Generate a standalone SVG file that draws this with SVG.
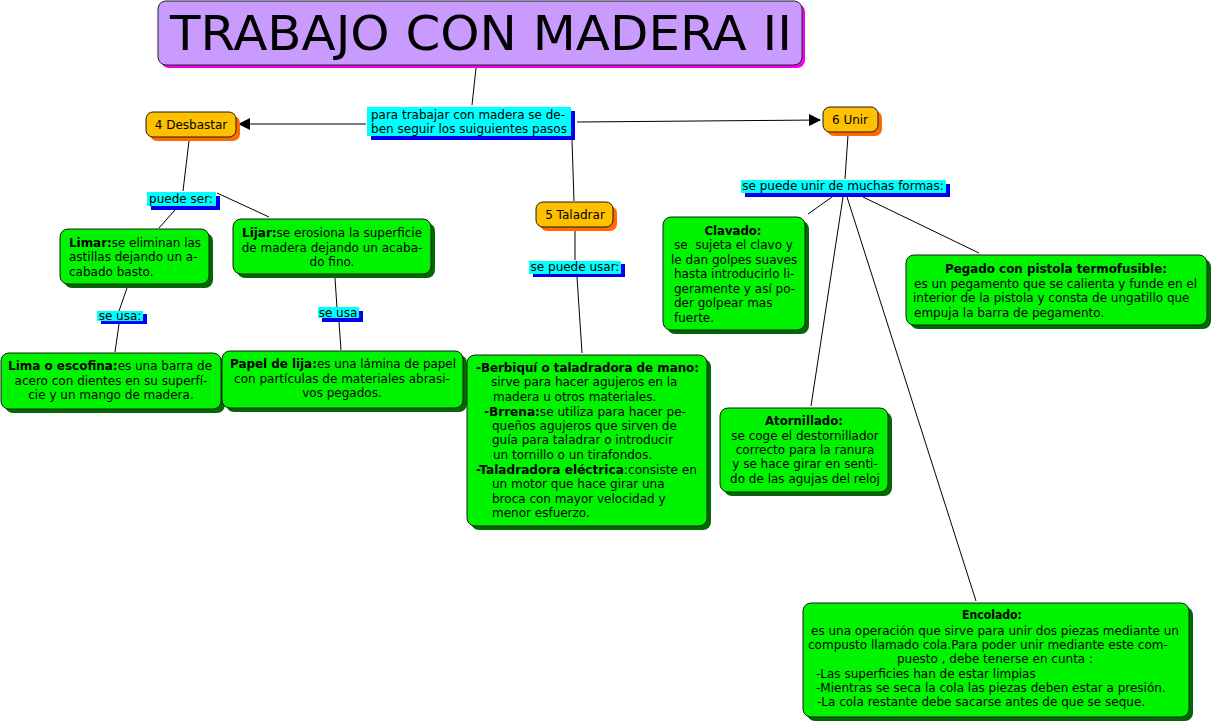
<svg xmlns="http://www.w3.org/2000/svg" width="1213" height="724" viewBox="0 0 1213 724">
<style>
text{font-family:"DejaVu Sans",Verdana,sans-serif;font-size:12px;fill:#000}
.b{font-weight:bold}
.c{text-anchor:middle}
.g{fill:#00F400;stroke:#1a1a1a;stroke-width:1}
.gs{fill:#006A00}
.o{fill:#FFC000;stroke:#1a1a1a;stroke-width:1}
.os{fill:#FF6A00}
.l{fill:#00FFFF}
.ls{fill:#0000F0}
.cn line{stroke:#000;stroke-width:1}
</style>
<defs>
<marker id="ar" markerWidth="12" markerHeight="12" refX="11" refY="6" orient="auto" markerUnits="userSpaceOnUse">
<path d="M0,0 L12,6 L0,12 Z" fill="#000"/>
</marker>
</defs>
<rect width="1213" height="724" fill="#fff"/>

<g id="connectors" class="cn">
<line x1="476" y1="68" x2="472" y2="105"/>
<line x1="366" y1="124" x2="239" y2="124" marker-end="url(#ar)"/>
<line x1="577" y1="122" x2="820" y2="120" marker-end="url(#ar)"/>
<line x1="572" y1="140" x2="574" y2="201"/>
<line x1="189" y1="141" x2="183" y2="191"/>
<line x1="175" y1="210" x2="159" y2="228"/>
<line x1="217" y1="193" x2="269" y2="217"/>
<line x1="127" y1="288" x2="119" y2="311"/>
<line x1="119" y1="324" x2="115" y2="352"/>
<line x1="335" y1="278" x2="337" y2="308"/>
<line x1="339" y1="322" x2="341" y2="350"/>
<line x1="575" y1="230" x2="575" y2="260"/>
<line x1="577" y1="277" x2="582" y2="353"/>
<line x1="848" y1="135" x2="845" y2="179"/>
<line x1="832" y1="197" x2="808" y2="214"/>
<line x1="843" y1="197" x2="811" y2="406"/>
<line x1="847" y1="197" x2="976" y2="601"/>
<line x1="863" y1="197" x2="979" y2="253"/>
</g>

<g id="title">
<rect x="161" y="4" width="644" height="64" rx="8" fill="#F000F0"/>
<rect x="158" y="1" width="644" height="64" rx="8" fill="#C99BFF" stroke="#222" stroke-width="1"/>
<text x="481" y="50" class="c" style="font-size:48px" textLength="622" lengthAdjust="spacingAndGlyphs">TRABAJO CON MADERA II</text>
</g>

<g id="pasos">
<rect x="371" y="111" width="204" height="29" class="ls"/>
<rect x="367" y="107" width="204" height="29" class="l"/>
<text x="468" y="119" class="c" textLength="194" lengthAdjust="spacingAndGlyphs">para trabajar con madera se de-</text>
<text x="469" y="133" class="c">ben seguir los suiguientes pasos</text>
</g>

<g id="desbastar">
<rect x="150" y="116" width="90" height="25" rx="7" class="os"/>
<rect x="146" y="112" width="90" height="25" rx="7" class="o"/>
<text x="191" y="129" class="c">4 Desbastar</text>
</g>

<g id="unir">
<rect x="827" y="111" width="55" height="25" rx="7" class="os"/>
<rect x="823" y="107" width="55" height="25" rx="7" class="o"/>
<text x="850" y="124" class="c">6 Unir</text>
</g>

<g id="taladrar">
<rect x="540" y="206" width="77" height="25" rx="7" class="os"/>
<rect x="536" y="202" width="77" height="25" rx="7" class="o"/>
<text x="575" y="219" class="c">5 Taladrar</text>
</g>

<g id="puede-ser">
<rect x="151" y="196" width="69" height="14" class="ls"/>
<rect x="147" y="192" width="69" height="14" class="l"/>
<text x="181" y="203" class="c">puede ser:</text>
</g>

<g id="limar">
<rect x="64" y="233" width="149" height="55" rx="8" class="gs"/>
<rect x="60" y="229" width="149" height="55" rx="8" class="g"/>
<text x="69" y="247" textLength="132" lengthAdjust="spacingAndGlyphs"><tspan class="b">Limar:</tspan>se eliminan las</text>
<text x="69" y="261">astillas dejando un a-</text>
<text x="69" y="276">cabado basto.</text>
</g>

<g id="lijar">
<rect x="237" y="223" width="198" height="55" rx="8" class="gs"/>
<rect x="233" y="219" width="198" height="55" rx="8" class="g"/>
<text x="332" y="237" class="c" textLength="180" lengthAdjust="spacingAndGlyphs"><tspan class="b">Lijar:</tspan>se erosiona la superficie</text>
<text x="332" y="252" class="c">de madera dejando un acaba-</text>
<text x="332" y="266" class="c">do fino.</text>
</g>

<g id="se-usa-1">
<rect x="101" y="314" width="46" height="10" class="ls"/>
<rect x="97" y="311" width="46" height="10" class="l"/>
<text x="120" y="320" class="c">se usa:</text>
</g>

<g id="se-usa-2">
<rect x="322" y="311" width="41" height="11" class="ls"/>
<rect x="318" y="307" width="41" height="11" class="l"/>
<text x="338" y="317" class="c">se usa</text>
</g>

<g id="lima">
<rect x="5" y="357" width="220" height="56" rx="8" class="gs"/>
<rect x="1" y="353" width="220" height="56" rx="8" class="g"/>
<text x="110" y="370" class="c" textLength="204" lengthAdjust="spacingAndGlyphs"><tspan class="b">Lima o escofina:</tspan>es una barra de</text>
<text x="111" y="385" class="c">acero con dientes en su superfí-</text>
<text x="111" y="399" class="c">cie y un mango de madera.</text>
</g>

<g id="papel">
<rect x="226" y="355" width="241" height="57" rx="8" class="gs"/>
<rect x="222" y="351" width="241" height="57" rx="8" class="g"/>
<text x="343" y="368" class="c" textLength="226" lengthAdjust="spacingAndGlyphs"><tspan class="b">Papel de lija:</tspan>es una lámina de papel</text>
<text x="342" y="383" class="c">con partículas de materiales abrasi-</text>
<text x="342" y="397" class="c">vos pegados.</text>
</g>

<g id="se-puede-usar">
<rect x="533" y="264" width="92" height="13" class="ls"/>
<rect x="529" y="261" width="92" height="13" class="l"/>
<text x="575" y="271" class="c">se puede usar:</text>
</g>

<g id="berbiqui">
<rect x="471" y="359" width="240" height="171" rx="8" class="gs"/>
<rect x="467" y="355" width="240" height="171" rx="8" class="g"/>
<text x="476" y="372" textLength="223" lengthAdjust="spacingAndGlyphs"><tspan class="b">-Berbiquí o taladradora de mano:</tspan></text>
<text x="491" y="386">sirve para hacer agujeros en la</text>
<text x="493" y="401">madera u otros materiales.</text>
<text x="484" y="416" textLength="202" lengthAdjust="spacingAndGlyphs"><tspan class="b">-Brrena:</tspan>se utiliza para hacer pe-</text>
<text x="492" y="430">queños agujeros que sirven de</text>
<text x="492" y="444">guía para taladrar o introducir</text>
<text x="493" y="459">un tornillo o un tirafondos.</text>
<text x="476" y="474" textLength="221" lengthAdjust="spacingAndGlyphs"><tspan class="b">-Taladradora eléctrica</tspan>:consiste en</text>
<text x="492" y="488">un motor que hace girar una</text>
<text x="492" y="503">broca con mayor velocidad y</text>
<text x="492" y="517">menor esfuerzo.</text>
</g>

<g id="formas">
<rect x="745" y="184" width="205" height="13" class="ls"/>
<rect x="741" y="180" width="205" height="13" class="l"/>
<text x="843" y="190" class="c">se puede unir de muchas formas:</text>
</g>

<g id="clavado">
<rect x="667" y="221" width="142" height="113" rx="8" class="gs"/>
<rect x="663" y="217" width="142" height="113" rx="8" class="g"/>
<text x="733" y="235" class="c b" textLength="57" lengthAdjust="spacingAndGlyphs">Clavado:</text>
<text x="674" y="249" xml:space="preserve">se  sujeta el clavo y</text>
<text x="671" y="264">le dan golpes suaves</text>
<text x="674" y="278">hasta introducirlo li-</text>
<text x="674" y="293">geramente y así po-</text>
<text x="674" y="307">der golpear mas</text>
<text x="674" y="322">fuerte.</text>
</g>

<g id="pegado">
<rect x="910" y="259" width="301" height="70" rx="8" class="gs"/>
<rect x="906" y="255" width="301" height="70" rx="8" class="g"/>
<text x="1056" y="273" class="c b" textLength="222" lengthAdjust="spacingAndGlyphs">Pegado con pistola termofusible:</text>
<text x="914" y="288">es un pegamento que se calienta y funde en el</text>
<text x="913" y="302">interior de la pistola y consta de ungatillo que</text>
<text x="914" y="317">empuja la barra de pegamento.</text>
</g>

<g id="atornillado">
<rect x="724" y="412" width="168" height="84" rx="8" class="gs"/>
<rect x="720" y="408" width="168" height="84" rx="8" class="g"/>
<text x="804" y="425" class="c b" textLength="78" lengthAdjust="spacingAndGlyphs">Atornillado:</text>
<text x="805" y="440" class="c">se coge el destornillador</text>
<text x="805" y="454" class="c">correcto para la ranura </text>
<text x="805" y="468" class="c">y se hace girar en senti-</text>
<text x="805" y="483" class="c">do de las agujas del reloj</text>
</g>

<g id="encolado">
<rect x="807" y="607" width="386" height="114" rx="8" class="gs"/>
<rect x="803" y="603" width="386" height="114" rx="8" class="g"/>
<text x="992" y="619" class="c b" textLength="60" lengthAdjust="spacingAndGlyphs">Encolado:</text>
<text x="995" y="635" class="c">es una operación que sirve para unir dos piezas mediante un</text>
<text x="808" y="649">compusto llamado cola.Para poder unir mediante este com-</text>
<text x="995" y="663" class="c">puesto , debe tenerse en cunta :</text>
<text x="816" y="678">-Las superficies han de estar limpias</text>
<text x="816" y="692">-Mientras se seca la cola las piezas deben estar a presión.</text>
<text x="817" y="706">-La cola restante debe sacarse antes de que se seque.</text>
</g>
</svg>
